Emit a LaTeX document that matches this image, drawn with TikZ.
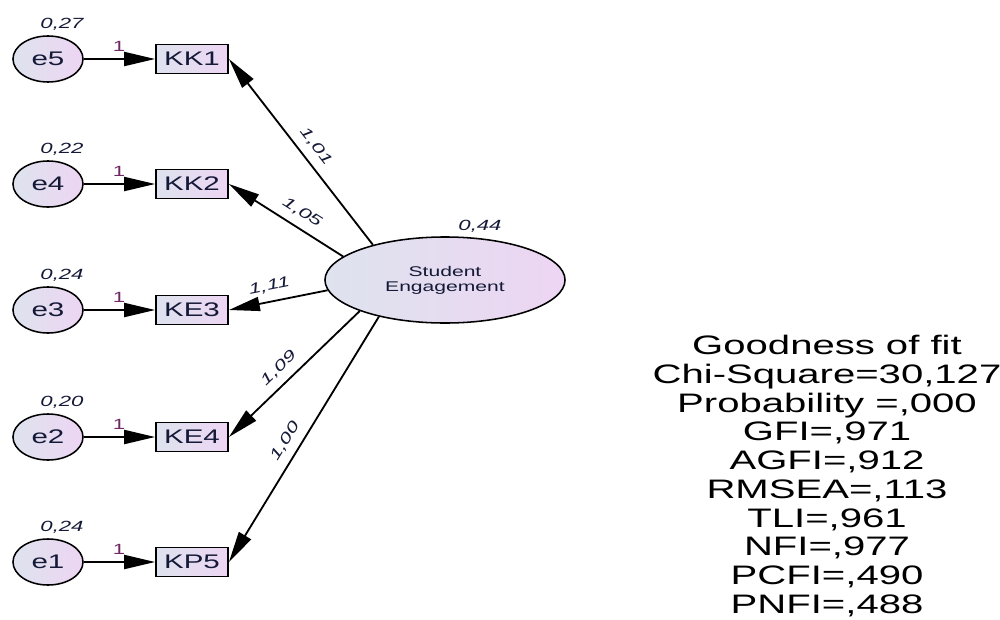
\documentclass[tikz,border=0pt]{standalone}
\usepackage{fontspec}
\setmainfont{Liberation Sans}[FakeStretch=1.5]
\usetikzlibrary{arrows.meta}
\usetikzlibrary{shapes.geometric}

\definecolor{ink}{RGB}{20,25,55}
\definecolor{wine}{RGB}{110,40,100}
\definecolor{pale}{RGB}{222,227,238}
\definecolor{lilac}{RGB}{237,213,243}

\tikzset{
  err/.style={ellipse, draw, line width=1.1pt, left color=pale, right color=lilac,
    minimum width=1.75cm, minimum height=1.15cm, inner sep=0pt,
    text=ink, font=\fontsize{14}{14}\selectfont},
  obs/.style={rectangle, draw, line width=1.3pt, left color=pale, right color=lilac,
    minimum width=1.8cm, minimum height=0.725cm, inner sep=0pt,
    text=ink, font=\fontsize{14}{14}\selectfont},
  lat/.style={ellipse, draw, line width=1.1pt, left color=pale, right color=lilac,
    minimum width=6cm, minimum height=2.15cm, inner sep=0pt, align=center,
    text=ink, font=\fontsize{10}{10.7}\selectfont},
  var/.style={text=ink, font=\fontsize{10.5}{10.5}\selectfont\itshape},
  wt/.style={text=wine, font=\fontsize{10.5}{10.5}\selectfont},
  coef/.style={sloped, above=2.5pt, text=ink, font=\fontsize{10.5}{10.5}\selectfont\itshape},
  link/.style={-{Triangle[length=22pt,width=10pt]}, line width=1.3pt},
}

\begin{document}
\begin{tikzpicture}[x=0.025cm, y=-0.025cm]
  \useasboundingbox (0,0) rectangle (1000,619);

  % error terms
  \node[err] (e5) at (48,59) {e5};
  \node[err] (e4) at (48,184) {e4};
  \node[err] (e3) at (48,310) {e3};
  \node[err] (e2) at (48,437) {e2};
  \node[err] (e1) at (48,562) {e1};

  % indicators
  \node[obs] (kk1) at (192,59) {KK1};
  \node[obs] (kk2) at (192,184) {KK2};
  \node[obs] (ke3) at (192,310) {KE3};
  \node[obs] (ke4) at (192,437) {KE4};
  \node[obs] (kp5) at (192,562) {KP5};

  % latent
  \node[lat] (se) at (445,280) {Student\\Engagement};

  % variances
  \node[var] (v5) at (62,24) {0,27};
  \node[var] (v4) at (62,149) {0,22};
  \node[var] (v3) at (62,275) {0,24};
  \node[var] (v2) at (62,402) {0,20};
  \node[var] (v1) at (62,527) {0,24};
  \node[var] (vse) at (480,226) {0,44};

  % error paths
  \draw[link] (e5) -- (kk1);
  \draw[link] (e4) -- (kk2);
  \draw[link] (e3) -- (ke3);
  \draw[link] (e2) -- (ke4);
  \draw[link] (e1) -- (kp5);
  \node[wt] (w5) at (119,46) {1};
  \node[wt] (w4) at (119,171) {1};
  \node[wt] (w3) at (119,297) {1};
  \node[wt] (w2) at (119,424) {1};
  \node[wt] (w1) at (119,549) {1};

  % loadings
  \draw[link] (se.154) -- node[coef, pos=.48] {1,01} (kk1.east);
  \draw[link] (se.167) -- node[coef, pos=.43] {1,05} (kk2.east);
  \draw[link] (se.185) -- node[coef, pos=.56] {1,11} (ke3.east);
  \draw[link] (se.200) -- node[coef, pos=.54] {1,09} (ke4.east);
  \draw[link] (se.209) -- node[coef, pos=.54] {1,00} (kp5.east);

  \node[align=center, text=black, font=\fontsize{19}{20.4}\selectfont] (fit) at (827,476)
    {Goodness of fit\\Chi-Square=30,127\\Probability =,000\\GFI=,971\\AGFI=,912\\
     RMSEA=,113\\TLI=,961\\NFI=,977\\PCFI=,490\\PNFI=,488};
\end{tikzpicture}
\end{document}
